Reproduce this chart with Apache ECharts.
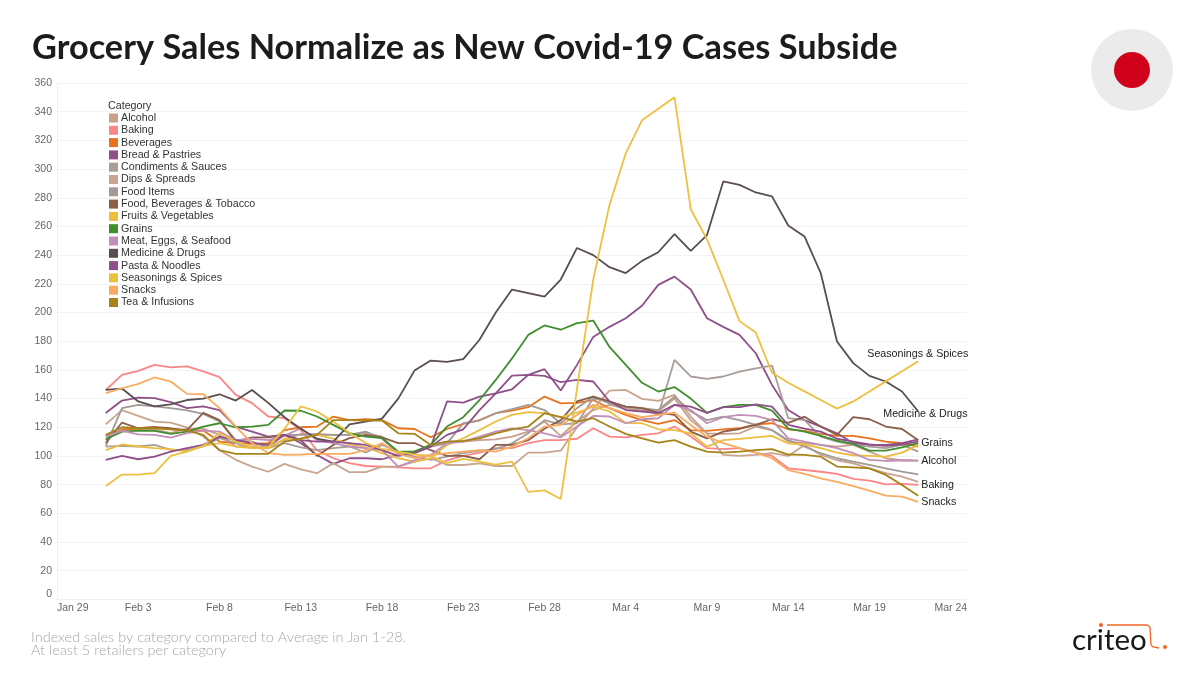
<!DOCTYPE html>
<html>
<head>
<meta charset="utf-8">
<style>html,body{margin:0;padding:0;background:#fff}#c{width:1200px;height:675px}</style>
<script src="https://cdn.jsdelivr.net/npm/echarts@6/dist/echarts.min.js"></script>
</head>
<body>
<div id="c"></div>
<script>
const tickDays = ['Jan 29','Jan 30','Jan 31','Feb 1','Feb 2','Feb 3','Feb 4','Feb 5','Feb 6','Feb 7','Feb 8','Feb 9','Feb 10','Feb 11','Feb 12','Feb 13','Feb 14','Feb 15','Feb 16','Feb 17','Feb 18','Feb 19','Feb 20','Feb 21','Feb 22','Feb 23','Feb 24','Feb 25','Feb 26','Feb 27','Feb 28','Feb 29','Mar 1','Mar 2','Mar 3','Mar 4','Mar 5','Mar 6','Mar 7','Mar 8','Mar 9','Mar 10','Mar 11','Mar 12','Mar 13','Mar 14','Mar 15','Mar 16','Mar 17','Mar 18','Mar 19','Mar 20','Mar 21','Mar 22','Mar 23','Mar 24','Mar 25'];

const alcohol = [111,119,118.6,118.6,116,119,119,114.7,106.6,106.6,106.6,111,115.4,115.4,114.7,114.7,115.9,113.5,
  102,103,107.7,110,110,111,111.6,113.5,117,124,114,124,132,135.6,133,132,131,140,
  125,115.8,115.4,115.8,120.5,118,110,109,107.7,106.5,107.7,103,98.4,97,96.8];
const baking = [146,156.5,159.3,163.5,161.7,162.4,158.9,155,142.6,136.8,127.5,126.3,118,104,98.4,95,93,92.6,
  92,91.4,91.4,97,100,102.3,105.4,105.4,109,111,111,112,119.3,113.5,113,114.7,115.8,120.5,
  113.5,105.4,104.7,105.4,102.3,100,91.4,90.2,89,87.5,84,82.8,80.2,80.5,79.8];
const beverages = [114,118,119.3,120,118.6,118,117.7,110,109,108.4,109,118,120,120.5,127.5,125,125.6,125,
  119.3,118.8,113,118.8,122.3,125,129.8,131.6,134,141.4,136.7,137,139,133.3,128.6,125,122.3,125,
  118,117.5,118.6,119.3,122,122.8,118.6,117.5,115.4,114,114,112.3,110,109,106.5];
const breadPastries = [130,138.6,140.7,140.3,137.5,133.3,134.5,132,120.5,117,113.5,114.7,109,100.7,94.5,98.4,98.4,97.7,
  100.7,103,106.5,138,137.2,141.4,143.7,146.5,156.5,160.5,145.6,163.5,183,190,196,204.7,219.3,225,
  216,196,190,184.4,171.6,149.5,132,125,120.5,115.8,108.9,107.7,107.7,109,111.6];
const condimentsSauces = [106.5,107,106.6,107.7,104.2,104.2,106.6,112.4,108.9,105.4,105.4,108.9,106,104,105.4,106.6,102.4,107.7,
  103,99.5,97.2,99.5,101.9,103.7,104.7,108.8,115.8,125,122,122.8,140,138,134,133.3,128.6,167,
  155.4,153.7,155.4,158.8,161,163,126.3,125,113.5,110,107.7,106.5,105.4,107.7,103];
const dipsSpreads = [122,132,128,124,123.3,120,113.5,104,97.3,92.6,89,94.5,90.7,88,95,88.7,88.7,92.6,
  92.6,96,98.4,93.7,93.7,94.9,93,93,102.3,102.3,103.7,120,133,145.6,146,139.8,138.4,142.6,
  127.5,115.8,100.7,100,100.7,101.9,100,107.7,100.7,97,94.9,91.4,88,85.6,82];
const foodItems = [107,133.3,135.6,134.5,133.3,131.7,129.3,124,111,110,106,114.7,114.7,114.7,114.7,114.7,117,112,
  102,102,106.5,108.8,122.8,124.7,129.8,132.6,135.6,132,122.8,133.3,141.4,136.7,134.4,133.3,132,141.4,
  131,125,127.4,125,121.6,118,111,106.5,101.9,98.4,96,93.7,91.4,89,87.2];
const foodBevTobacco = [109,123.3,119.3,120,119.3,118,130,125,110,113,113,114.7,111,100,107.7,112.4,114.7,113,
  109,109,104,100,100,97.7,107.7,107.7,111,119,125,138,141.4,138,134.4,133.3,130.2,128.6,
  117,112.3,117,118.8,121.6,125.6,123,127.4,120.5,114.7,127,125.6,120.5,118.8,111];
const fruitsVegetables = [104,108,106.6,105.4,104.7,103,107,109,106.6,105.4,105.4,112,112,114.7,112,108,106,102,
  98.4,96,98.4,107.7,112.3,118,124,128.6,130.5,129.8,127,130.2,134.4,131,123,122.8,118.6,118,
  115.8,106.5,111,111.9,113,114,108.8,108,105.4,102.3,100.5,100,99.5,102.3,107.7];
const grains = [111.7,117,117.7,117.5,115.4,117,120.5,122.8,120,120.5,121.7,131.7,131.5,127.5,121.7,115.9,113.5,112.4,
  103,103,107.7,120.5,127,139,153,168,184.4,191,188,192.6,194.4,176,163.5,151,144.9,148,
  140,130,134,135.6,135.6,131.6,119,117,114,110.7,108.4,103.7,103.7,106,109];
const meatEggsSeafood = [113.5,117.7,115,114.7,112.8,115.9,117.7,117,111,112,111,114,119.3,111,108.9,106.6,105.4,104,
  92.6,97,100.7,108.8,110,113.5,117,119.3,118,115.8,113,120.5,127.9,127.5,122.8,125.6,126.3,135.6,
  132,122.8,127,128.6,128,125,112.3,110,107.7,105.4,102,97.2,96.5,97,96.8];
const medicineDrugs = [146,147,138,134.5,136,139,140,143,138.6,146,137,127,119,112,110,122,124,126,
  140,159.5,166.5,165.6,167.5,181,200,216,213.5,211,223,245,240,231.6,227.5,236,242,254.6,
  243,254,291.4,289,283.7,281,260.7,253,227.5,179.8,164.7,155.8,151.9,144.9,131];
const pastaNoodles = [97.3,100,97.7,99.6,103,105.4,107.7,113.5,111,109,107.7,114.7,111,110,110,108.9,107.7,104,
  100,102,106.5,114.7,118.6,132,143.7,156,156.5,155.8,151.4,153,151.9,138,132,131,129.8,135.6,
  134.4,130,134,134,136,134.4,121.6,119,117,112,110,108,107,108,110];
const seasoningsSpices = [79,87,87,88,100,103,107,116,110,106,106,119,134.5,131,124,116,109,105,
  103,101,100,95,98,96,94,96,75,76,70,147,223,275,311,334,342,350,
  272,251,223,194,186,158,151,145,139,133,138,145,152,159,166];
const snacks = [143.8,147.2,150.3,154.7,151.9,143.3,143,133.3,120.5,108.9,102,100.7,101,101.5,101.5,101.5,104,109,
  101.4,98.4,100.7,101.9,103,104,103,106.5,112.3,120.5,121.6,128.6,135.6,133.3,129.8,127,128.6,130.2,
  121.6,113.5,108.9,105.4,102.3,98.4,90.2,87.5,84.4,82,79,75.8,72.3,71.6,68];
const teaInfusions = [114.7,120,119.3,119.3,118.6,117.7,114.7,104,101.5,101.5,101.5,110,112,114.7,125,125,124.7,124.7,
  115.8,115.4,107.7,110,110.5,112.3,115.8,118.6,120.5,129.8,127,124,126.3,120.5,115.4,112.3,109.3,111,
  106.5,103,102.3,103,104,104.7,101,100.7,99.5,92.6,92.1,91.4,86.8,79.8,72.3];

const categories = ['Alcohol','Baking','Beverages','Bread & Pastries','Condiments & Sauces','Dips & Spreads','Food Items','Food, Beverages & Tobacco','Fruits & Vegetables','Grains','Meat, Eggs, & Seafood','Medicine & Drugs','Pasta & Noodles','Seasonings & Spices','Snacks','Tea & Infusions'];
const values = [alcohol,baking,beverages,breadPastries,condimentsSauces,dipsSpreads,foodItems,foodBevTobacco,fruitsVegetables,grains,meatEggsSeafood,medicineDrugs,pastaNoodles,seasoningsSpices,snacks,teaInfusions];
const colors = ['#c9a08e','#fb8686','#e8731a','#8f4f8a','#a89d98','#c9a590','#a39a96','#8b5e4a','#ecbd3f','#3f8f2e','#c18fb8','#5a4e4e','#8f4f8a','#eec040','#f9ab62','#a6841a'];
const endOffsets = {
  'Seasonings & Spices':[-54,-7],
  'Medicine & Drugs':[-38,3],
  'Grains':[0,0],
  'Alcohol':[0,1],
  'Baking':[0,0],
  'Snacks':[0,0]
};
const leadDays = [null,null,null];

const chart = echarts.init(document.getElementById('c'), null, {renderer:'canvas'});
chart.setOption({
  animation:false,
  backgroundColor:'#fff',
  title:{text:'Grocery Sales Normalize as New Covid-19 Cases Subside',left:27,top:26,
    textStyle:{fontFamily:'Lato',fontWeight:'bold',fontSize:34.3,color:'#1c1c1c'}},
  grid:{left:57,right:233,top:83,bottom:75.6,containLabel:false},
  legend:{show:true,orient:'vertical',left:109,top:112.5,padding:0,icon:'rect',itemWidth:9,itemHeight:9,itemGap:1.3,
    data:categories,selectedMode:false,
    textStyle:{fontFamily:'Liberation Sans',fontSize:10.7,color:'#333',padding:[0,0,0,-2],lineHeight:9}},
  xAxis:{type:'category',data:tickDays,boundaryGap:false,
    axisLine:{lineStyle:{color:'#f0f0f0'}},axisTick:{show:false},splitLine:{show:false},
    axisLabel:{fontFamily:'Liberation Sans',fontSize:10.5,color:'#666',margin:3,
      interval:(i)=>i%5===0,alignMinLabel:'left',showMinLabel:true}},
  yAxis:{type:'value',min:0,max:360,interval:20,
    axisLine:{show:true,lineStyle:{color:'#f0f0f0'}},axisTick:{show:false},
    splitLine:{lineStyle:{color:'#f3f3f3'}},
    axisLabel:{fontFamily:'Liberation Sans',fontSize:10.5,color:'#666',margin:5,verticalAlignMinLabel:'bottom'}},
  graphic:[
    {type:'text',left:108,top:101,style:{text:'Category',font:'10.7px "Liberation Sans"',fill:'#333'}},
    {type:'text',left:31,top:630,style:{text:'Indexed sales by category compared to Average in Jan 1-28.',font:'300 14.5px "Lato"',fill:'#a6a6a6'}},
    {type:'text',left:31,top:642.5,style:{text:'At least 5 retailers per category',font:'300 14.5px "Lato"',fill:'#a6a6a6'}},
    {type:'circle',shape:{cx:1132,cy:70,r:41},style:{fill:'#ebebeb'}},
    {type:'circle',shape:{cx:1132,cy:70,r:18},style:{fill:'#d0021b'}},
    {type:'text',left:1072,top:625,style:{text:'criteo',font:'29.5px "Lato"',fill:'#1a1a1a'}},
    {type:'circle',shape:{cx:1101,cy:625,r:2},style:{fill:'#f26522'}},
    {type:'polyline',shape:{points:[[1107,625],[1147,625],[1150,627],[1151,645],[1153,647],[1159,648]]},style:{stroke:'#f26522',lineWidth:1.3,fill:'none'}},
    {type:'circle',shape:{cx:1165,cy:647,r:2},style:{fill:'#f26522'}}
  ],
  series:categories.map((name,i)=>({
    name,type:'line',symbol:'none',silent:true,
    data:leadDays.concat(values[i]),
    itemStyle:{color:colors[i]},
    lineStyle:{color:colors[i],width:1.8},
    endLabel:endOffsets[name]?{show:true,formatter:name,distance:3,align:'left',offset:endOffsets[name],
      fontFamily:'Liberation Sans',fontSize:10.7,color:'#222'}:{show:false}
  }))
});
</script>
</body>
</html>
